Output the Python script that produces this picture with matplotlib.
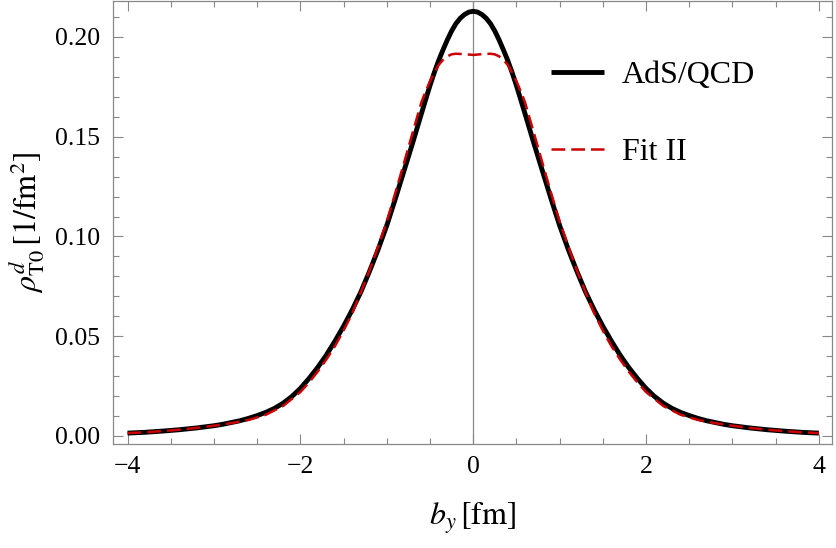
import matplotlib
matplotlib.use("Agg")
import matplotlib.pyplot as plt
from matplotlib.ticker import MultipleLocator, FixedLocator

# AdS/QCD curve, right half (b_y >= 0, in fm; rho in 1/fm^2); the curve is symmetric in b_y
ads_half_x = [0.0, 0.05, 0.1, 0.15, 0.2, 0.25, 0.3, 0.35, 0.4, 0.45, 0.5, 0.6, 0.7, 0.8, 0.9,
              1.0, 1.1, 1.2, 1.3, 1.4, 1.5, 1.6, 1.7, 1.8, 1.9, 2.0, 2.1, 2.2, 2.3, 2.4, 2.5,
              2.6, 2.7, 2.8, 2.9, 3.0, 3.2, 3.4, 3.6, 3.8, 4.0]
ads_half_y = [0.2129, 0.2125, 0.2113, 0.2094, 0.2067, 0.2030, 0.1985, 0.1935, 0.1882, 0.1822,
              0.1757, 0.1615, 0.1470, 0.1330, 0.1190, 0.1055, 0.0935, 0.0825, 0.0722, 0.0632,
              0.0550, 0.0475, 0.0405, 0.0343, 0.0288, 0.0238, 0.0197, 0.0164, 0.0138, 0.0118,
              0.0102, 0.0088, 0.0076, 0.0067, 0.0058, 0.0051, 0.0040, 0.0031, 0.0024, 0.0018,
              0.0014]

# Fit II curve, right half
fit_half_x = [0.0, 0.1, 0.2, 0.25, 0.3, 0.35, 0.4, 0.45, 0.5, 0.55, 0.6, 0.7, 0.8, 0.9, 1.0,
              1.1, 1.2, 1.3, 1.4, 1.5, 1.6, 1.7, 1.8, 1.9, 2.0, 2.2, 2.4, 2.6, 2.8, 3.0, 3.2,
              3.4, 3.6, 3.8, 4.0]
fit_half_y = [0.1910, 0.1914, 0.1916, 0.1913, 0.1903, 0.1885, 0.1860, 0.1822, 0.1778, 0.1728,
              0.1672, 0.1522, 0.1370, 0.1220, 0.1075, 0.0950, 0.0830, 0.0720, 0.0615, 0.0528,
              0.0450, 0.0383, 0.0322, 0.0268, 0.0220, 0.0150, 0.0106, 0.0080, 0.0064, 0.0051,
              0.0040, 0.0031, 0.0024, 0.0018, 0.0014]

ads_x = [-v for v in reversed(ads_half_x[1:])] + ads_half_x
ads_y = list(reversed(ads_half_y[1:])) + ads_half_y
fit_x = [-v for v in reversed(fit_half_x[1:])] + fit_half_x
fit_y = list(reversed(fit_half_y[1:])) + fit_half_y

x_ticks = [-4, -2, 0, 2, 4]
x_tick_labels = ['\u22124', '\u22122', '0', '2', '4']
y_ticks = [0.0, 0.05, 0.10, 0.15, 0.20]
y_tick_labels = ['0.00', '0.05', '0.10', '0.15', '0.20']

plt.rcParams['font.family'] = ['Liberation Serif', 'DejaVu Serif']
plt.rcParams['mathtext.fontset'] = 'stix'

fig = plt.figure(figsize=(8.36, 5.48), dpi=100)
ax = fig.add_axes([0.135, 0.19, 0.86, 0.808])

gray = '#888888'
ax.axvline(0, color=gray, lw=0.9, zorder=1)
ax.plot(ads_x, ads_y, color='black', lw=3.5, solid_capstyle='butt', solid_joinstyle='round',
        label='AdS/QCD', zorder=3)
ax.plot(fit_x, fit_y, color='#cc0000', lw=1.8, dashes=(5.5, 2.4), label='Fit II', zorder=4)

ax.set_xlim(-4.17, 4.15)
ax.set_ylim(-0.004, 0.218)

ax.xaxis.set_major_locator(FixedLocator(x_ticks))
ax.xaxis.set_minor_locator(MultipleLocator(0.5))
ax.yaxis.set_major_locator(FixedLocator(y_ticks))
ax.yaxis.set_minor_locator(MultipleLocator(0.01))
ax.set_xticklabels(x_tick_labels)
ax.set_yticklabels(y_tick_labels)

for s in ax.spines.values():
    s.set_color(gray)
    s.set_linewidth(0.9)
ax.tick_params(which='both', direction='in', top=True, right=True, color=gray, width=0.8)
ax.tick_params(which='major', length=7, labelsize=18.5, pad=9)
ax.tick_params(which='minor', length=4)

ax.set_xlabel(r'$b_y\,[\mathrm{fm}]$', fontsize=23, labelpad=16)
ax.set_ylabel(r'$\rho^{d}_{\mathrm{T0}}\,[1/\mathrm{fm}^2]$', fontsize=23, labelpad=6)

leg = ax.legend(loc='upper left', bbox_to_anchor=(0.57, 0.93), frameon=False,
                fontsize=23, handlelength=1.65, handletextpad=0.55, labelspacing=1.5)

fig.savefig('out.png', dpi=100)
